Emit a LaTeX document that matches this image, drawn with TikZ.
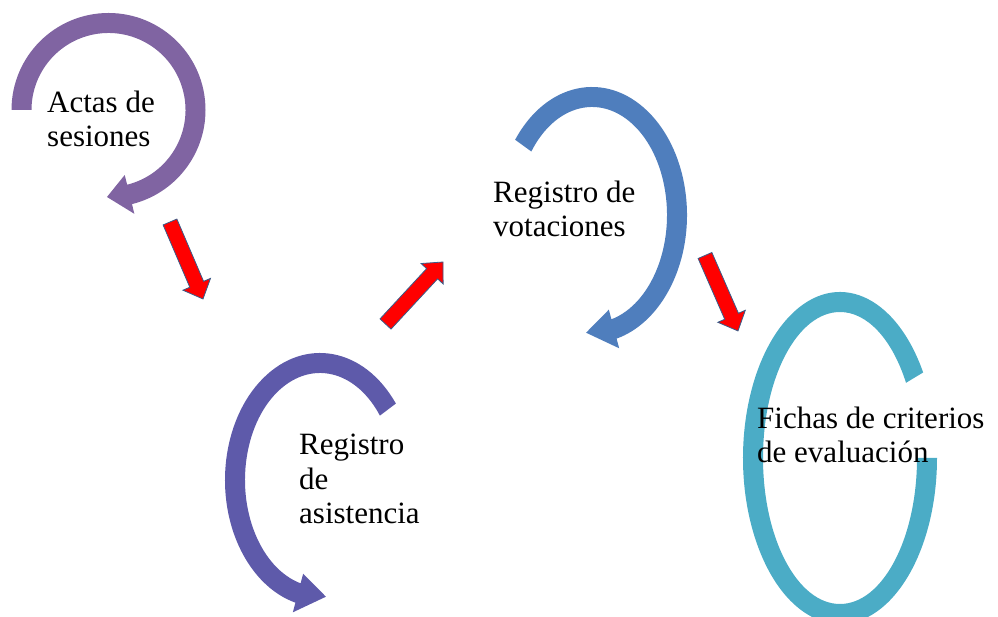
\documentclass[tikz,border=0pt]{standalone}
\usepackage{fontspec}
\setmainfont{Liberation Serif}
\usetikzlibrary{calc}
\definecolor{cpurple}{HTML}{8064A2}
\definecolor{cindigo}{RGB}{94,90,170}
\definecolor{cblue}{HTML}{4F7EBD}
\definecolor{caqua}{HTML}{4BACC6}
\definecolor{cborder}{HTML}{385D8A}
\tikzset{
  lbl/.style={font=\fontsize{31}{34.5}\selectfont, align=left, anchor=base west, inner sep=0pt, text=black},
  redarr/.style={fill=red, draw=cborder, line width=0.8pt, line join=miter}
}
% circular arrow: cx, cy, rx, ry (mid), start, end, tip angle, colour
\newcommand{\circarr}[8]{%
  \fill[#8] ({#1+(#3+10)*cos(#5)},{#2+(#4+10)*sin(#5)})
    arc[start angle=#5, end angle=#6, x radius=#3+10, y radius=#4+10]
    -- ({#1+(#3+20)*cos(#6)},{#2+(#4+20)*sin(#6)})
    -- ({#1+#3*cos(#7)},{#2+#4*sin(#7)})
    -- ({#1+(#3-20)*cos(#6)},{#2+(#4-20)*sin(#6)})
    -- ({#1+(#3-10)*cos(#6)},{#2+(#4-10)*sin(#6)})
    arc[start angle=#6, end angle=#5, x radius=#3-10, y radius=#4-10] -- cycle;}
% block arrow from #1 to #2
\newcommand{\redarrow}[2]{%
  \draw[redarr] let \p1=($(#2)-(#1)$), \n1={atan2(\y1,\x1)}, \n2={veclen(\x1,\y1)} in
    [shift={(#1)}, rotate=\n1] (0,-7.5) -- ({\n2-16},-7.5) -- ({\n2-16},-15) -- (\n2,0)
    -- ({\n2-16},15) -- ({\n2-16},7.5) -- (0,7.5) -- cycle;}
\begin{document}
\begin{tikzpicture}[x=1pt,y=1pt]
\useasboundingbox (0,0) rectangle (998,617);
\clip (0,0) rectangle (998,617);
% circular arrows
\circarr{108.5}{507}{87}{87}{180}{-76}{-91}{cpurple}
\circarr{320}{137}{85}{117}{37}{255}{274}{cindigo}
\circarr{592}{402}{85}{118}{144}{-75}{-94}{cblue}
\fill[caqua] ({840+97*cos(31)},{159+166*sin(31)})
  arc[start angle=31, end angle=360, x radius=97, y radius=166]
  -- (917,159)
  arc[start angle=360, end angle=31, x radius=77, y radius=146] -- cycle;
% labels (anchored at the baseline of the last line)
\node[lbl] (t1) at (47,470) {Actas de\\sesiones};
\node[lbl] (t2) at (299,93) {Registro\\de\\asistencia};
\node[lbl] (t3) at (493,380) {Registro de\\votaciones};
\node[lbl] (t4) at (757,154) {Fichas de criterios\\de evaluación};
% red arrows
\coordinate (a1s) at (170,395);
\coordinate (a1e) at (203,318);
\coordinate (a2s) at (385.5,293);
\coordinate (a2e) at (443,355);
\coordinate (a3s) at (705,361.5);
\coordinate (a3e) at (738,286);
\redarrow{a1s}{a1e}
\redarrow{a2s}{a2e}
\redarrow{a3s}{a3e}
\end{tikzpicture}
\end{document}
